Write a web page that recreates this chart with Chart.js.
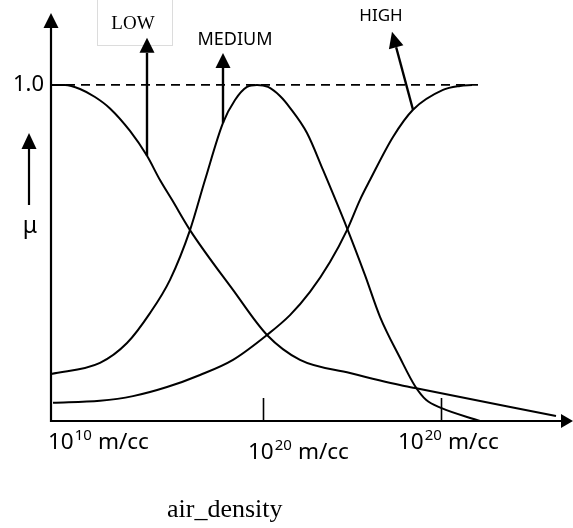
<!DOCTYPE html>
<html>
<head>
<meta charset="utf-8">
<script src="https://cdn.jsdelivr.net/npm/chart.js@4"></script>
<style>
  html, body { margin: 0; padding: 0; background: #fff; }
  canvas { display: block; }
</style>
</head>
<body>
<canvas id="chart" width="573" height="528"></canvas>
<script>
// データ（x は air_density 軸上の位置、任意単位 / y はメンバーシップ値 μ）
const categories = ['LOW', 'MEDIUM', 'HIGH'];

const lowX  = [1, 14, 29, 44, 59, 79, 96, 109, 121, 139, 182, 216, 249, 299, 349, 364, 505];
const lowMu = [1.0, 1.0, 0.988, 0.964, 0.930, 0.863, 0.789, 0.717, 0.658, 0.568, 0.390, 0.256, 0.182, 0.143, 0.107, 0.098, 0.015];

const mediumX  = [0, 49, 76, 99, 119, 139, 154, 172, 184, 196, 206, 217, 229, 239, 256, 272, 296, 314, 329, 349, 364, 375, 390, 429];
const mediumMu = [0.140, 0.173, 0.232, 0.321, 0.420, 0.568, 0.717, 0.887, 0.955, 0.994, 1.0, 0.994, 0.967, 0.932, 0.857, 0.747, 0.574, 0.434, 0.310, 0.188, 0.104, 0.063, 0.039, 0.0];

const highX  = [2, 49, 82, 116, 149, 182, 216, 239, 259, 279, 296, 309, 319, 342, 362, 392, 409, 421];
const highMu = [0.054, 0.060, 0.074, 0.101, 0.137, 0.182, 0.256, 0.315, 0.384, 0.473, 0.568, 0.658, 0.717, 0.845, 0.926, 0.985, 0.997, 1.0];

const refX  = [0, 427];
const refMu = [1.0, 1.0];

const tickValues = [0, 212, 390];
const tickExponents = ['10', '20', '20'];
const tickUnit = 'm/cc';
const yTickLabel = '1.0';
const yAxisTitle = 'μ';
const xAxisTitle = 'air_density';

// 系列データを {x, y} に変換
function toPoints(xs, ys) {
    return xs.map((x, i) => ({ x: x, y: ys[i] }));
}

function curve(xs, ys) {
    return {
        data: toPoints(xs, ys),
        borderColor: '#000',
        borderWidth: 2,
        pointRadius: 0,
        cubicInterpolationMode: 'monotone',
        fill: false
    };
}

// 矢印の描画
function arrow(ctx, x1, y1, x2, y2, head, halfW) {
    const ang = Math.atan2(y2 - y1, x2 - x1);
    const bx = x2 - head * Math.cos(ang);
    const by = y2 - head * Math.sin(ang);
    ctx.beginPath();
    ctx.moveTo(x1, y1);
    ctx.lineTo(bx, by);
    ctx.stroke();
    ctx.beginPath();
    ctx.moveTo(x2, y2);
    ctx.lineTo(bx + halfW * Math.sin(ang), by - halfW * Math.cos(ang));
    ctx.lineTo(bx - halfW * Math.sin(ang), by + halfW * Math.cos(ang));
    ctx.closePath();
    ctx.fill();
}

// 軸・矢印・ラベルを描くプラグイン
const decorations = {
    id: 'decorations',
    afterDatasetsDraw(chart) {
        const ctx = chart.ctx;
        const xs = chart.scales.x;
        const ys = chart.scales.y;
        const x0 = xs.getPixelForValue(0);
        const y0 = ys.getPixelForValue(0);

        ctx.save();
        ctx.strokeStyle = '#000';
        ctx.fillStyle = '#000';
        ctx.lineWidth = 2.2;

        // 縦軸と横軸
        arrow(ctx, x0, y0 + 1, x0, chart.chartArea.top, 15, 7.5);
        arrow(ctx, x0, y0, chart.chartArea.right, y0, 12, 7);

        // 目盛り
        ctx.lineWidth = 1.6;
        tickValues.slice(1).forEach(v => {
            const px = Math.round(xs.getPixelForValue(v)) + 0.5;
            ctx.beginPath();
            ctx.moveTo(px, y0);
            ctx.lineTo(px, y0 - 23);
            ctx.stroke();
        });

        // 目盛りラベル（10^n m/cc）
        const labelDx = [-3, -15, -43];
        const labelDy = [28, 38, 28];
        ctx.textBaseline = 'alphabetic';
        ctx.textAlign = 'left';
        tickValues.forEach((v, i) => {
            let px = xs.getPixelForValue(v) + labelDx[i];
            const base = y0 + labelDy[i];
            ctx.font = '22.5px "Noto Sans"';
            ctx.fillText('10', px, base);
            px += ctx.measureText('10').width + 1;
            ctx.font = '15px "Noto Sans"';
            ctx.fillText(tickExponents[i], px, base - 9);
            px += ctx.measureText(tickExponents[i]).width + 6;
            ctx.font = '22.5px "Noto Sans"';
            ctx.fillText(tickUnit, px, base);
        });

        // 1.0 ラベル
        ctx.font = '22px "Noto Sans"';
        ctx.textAlign = 'right';
        ctx.textBaseline = 'middle';
        ctx.fillText(yTickLabel, x0 - 7, ys.getPixelForValue(1.0));

        // μ と上向き矢印
        ctx.lineWidth = 2.2;
        arrow(ctx, 29, 205, 29, 133, 16, 7.5);
        ctx.textAlign = 'center';
        ctx.textBaseline = 'alphabetic';
        ctx.font = '23px "Noto Sans"';
        ctx.fillText(yAxisTitle, 30, 233);

        // 横軸タイトル
        ctx.font = '26px "Liberation Serif"';
        ctx.textAlign = 'left';
        ctx.fillText(xAxisTitle, 167, 517);

        // LOW ラベル（枠付き）
        ctx.strokeStyle = '#dcdcdc';
        ctx.lineWidth = 1;
        ctx.strokeRect(97.5, -1, 75, 46.5);
        ctx.font = '19px "Liberation Serif"';
        ctx.textAlign = 'center';
        ctx.fillText(categories[0], 133, 29);

        ctx.font = '18px "Noto Sans"';
        ctx.fillText(categories[1], 235, 45);
        ctx.font = '17px "Noto Sans"';
        ctx.fillText(categories[2], 381, 21);

        // 各曲線からラベルへの矢印
        ctx.strokeStyle = '#000';
        ctx.lineWidth = 2.4;
        arrow(ctx, xs.getPixelForValue(96), ys.getPixelForValue(0.789),
              xs.getPixelForValue(96), ys.getPixelForValue(1.14), 15, 7.5);
        arrow(ctx, xs.getPixelForValue(172), ys.getPixelForValue(0.887),
              xs.getPixelForValue(172), ys.getPixelForValue(1.095), 15, 7.5);
        arrow(ctx, xs.getPixelForValue(362), ys.getPixelForValue(0.926),
              xs.getPixelForValue(341), ys.getPixelForValue(1.158), 16, 7.5);

        ctx.restore();
    }
};

const chart = new Chart(document.getElementById('chart'), {
    type: 'line',
    data: {
        datasets: [
            curve(lowX, lowMu),
            curve(mediumX, mediumMu),
            curve(highX, highMu),
            {
                data: toPoints(refX, refMu),
                borderColor: '#000',
                borderWidth: 1.8,
                borderDash: [9, 6],
                pointRadius: 0,
                fill: false
            }
        ]
    },
    options: {
        responsive: false,
        animation: false,
        layout: { padding: { left: 51, right: 0, top: 13, bottom: 107 } },
        plugins: {
            legend: { display: false },
            tooltip: { enabled: false }
        },
        scales: {
            x: { type: 'linear', min: 0, max: 522, display: false },
            y: { type: 'linear', min: 0, max: 1.214, display: false }
        }
    },
    plugins: [decorations]
});
</script>
</body>
</html>
